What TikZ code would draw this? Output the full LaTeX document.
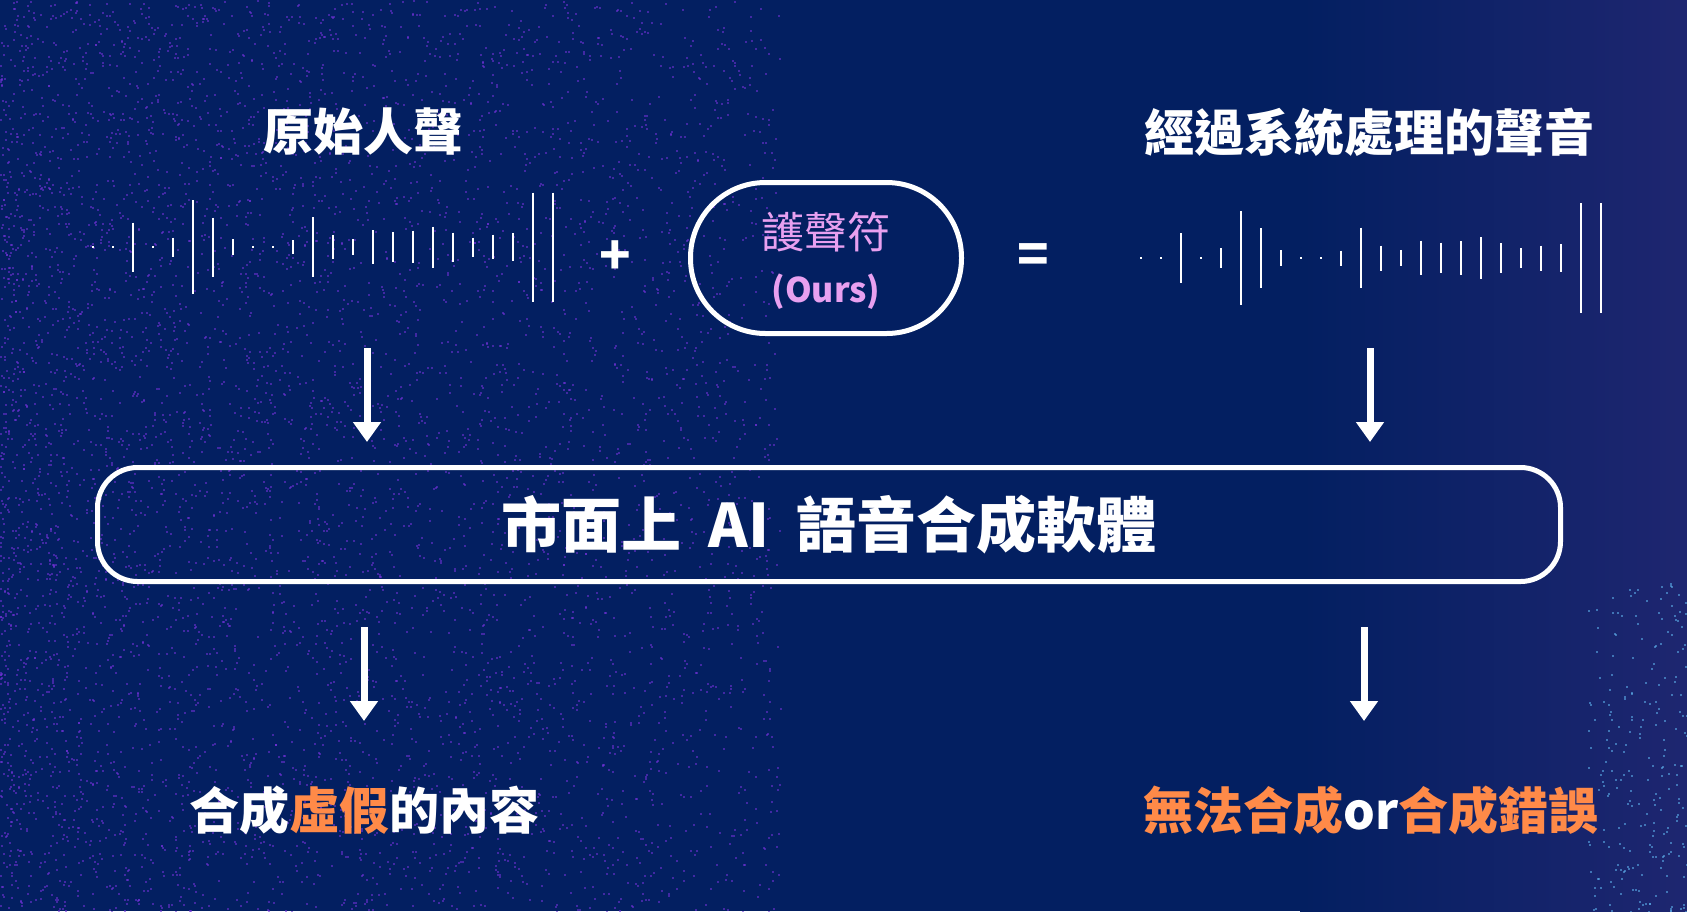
\documentclass[tikz,border=0pt]{standalone}
\usepackage{fontspec}
\setmainfont{Noto Sans CJK TC}
\usetikzlibrary{arrows.meta}
\definecolor{navybg}{RGB}{3,31,97}
\definecolor{edgeblue}{RGB}{30,38,112}
\definecolor{speckpurple}{RGB}{116,50,220}
\definecolor{speckcyan}{RGB}{90,170,230}
\definecolor{hotorange}{RGB}{255,138,72}
\definecolor{softpink}{RGB}{232,160,240}

\begin{document}
\begin{tikzpicture}[x=1pt,y=-1pt]
                \tikzstyle{title} = [text=white, font=\fontsize{50}{60}\selectfont\bfseries]
                \tikzstyle{result} = [font=\fontsize{50}{60}\selectfont\bfseries]
                \tikzstyle{wavebar} = [white, line width=2.5pt]
                \tikzstyle{sign} = [text=white, font=\fontsize{52}{60}\selectfont\bfseries]
                \tikzstyle{pill} = [draw=white, line width=5pt, rounded corners=75pt, minimum width=271pt, minimum height=151pt]
                \tikzstyle{bigbox} = [draw=white, line width=5pt, rounded corners=40pt, minimum width=1463pt, minimum height=114pt, text=white, font=\fontsize{60}{72}\selectfont\bfseries]
                \tikzstyle{arrow} = [white, line width=7pt, -{Triangle[width=27pt,length=20pt]}]
                \tikzstyle{speck} = [speckpurple, opacity=0.55]

                \useasboundingbox (0,0) rectangle (1687,911);
                \fill[navybg] (0,0) rectangle (1687,911);
                \shade[left color=navybg, right color=edgeblue] (1300,0) rectangle (1687,911);

                \pgfmathsetseed{7}
                \foreach \k in {1,...,6000}{
                    \pgfmathsetmacro{\sx}{780*pow(rnd,1.4)}
                    \pgfmathsetmacro{\sy}{911*rnd}
                    \fill[speck] (\sx,\sy) rectangle ++(2,2);
                }
                \foreach \k in {1,...,240}{
                    \pgfmathsetmacro{\sx}{1687-100*pow(rnd,1.3)}
                    \pgfmathsetmacro{\sy}{911-330*pow(rnd,1.3)}
                    \fill[speckcyan, opacity=0.6] (\sx,\sy) rectangle ++(2,2);
                }

                \node (rawvoice) [title] at (363,131) {原始人聲};
                \node (protvoice) [title] at (1369,132) {經過系統處理的聲音};

                \foreach \h [count=\i from 0] in {1.2,0.7,24.5,1.2,9.5,46.7,29.5,7.8,1.2,0.7,7,30,12.2,7.8,16.8,15,16.3,20.5,14.5,9.5,12.3,13.8,54.5,54.5}
                    \draw[wavebar] (93+20*\i,247-\h) -- (93+20*\i,247+\h);
                \foreach \h [count=\i from 0] in {1.2,0.7,25,1.2,10,47.2,29.8,8,1.2,0.7,7.5,30.3,12.5,8.2,17.3,15.3,16.6,20.8,14.7,9.8,12.5,14.2,55,55}
                    \draw[wavebar] (1141+20*\i,258-\h) -- (1141+20*\i,258+\h);

                \node (plus) [sign] at (615,258) {+};
                \node (shield) [pill] at (826,258) {};
                \node (shieldname) [text=softpink, font=\fontsize{43}{50}\selectfont] at (826,232) {護聲符};
                \node (ours) [text=softpink, font=\fontsize{34}{40}\selectfont\bfseries] at (826,292) {(Ours)};
                \node (equal) [sign] at (1033,259) {=};

                \node (tts) [bigbox] at (829,524.5) {市面上\hspace{0.45em}AI\hspace{0.45em}語音合成軟體};

                \node (fakeout) [result, text=white] at (364,810) {合成\textcolor{hotorange}{虛假}的內容};
                \node (failout) [result, text=hotorange] at (1371,810) {無法合成\textcolor{white}{or}合成錯誤};

                \coordinate (topL) at (367,348);
                \coordinate (topR) at (1370,348);
                \coordinate (botL) at (364,721);
                \coordinate (botR) at (1364,721);

                \draw [arrow, shorten >=23pt] (topL) -- (topL |- tts.north);
                \draw [arrow, shorten >=23pt] (topR) -- (topR |- tts.north);
                \draw [arrow, shorten <=43pt] (botL |- tts.south) -- (botL);
                \draw [arrow, shorten <=43pt] (botR |- tts.south) -- (botR);
            \end{tikzpicture}
\end{document}
